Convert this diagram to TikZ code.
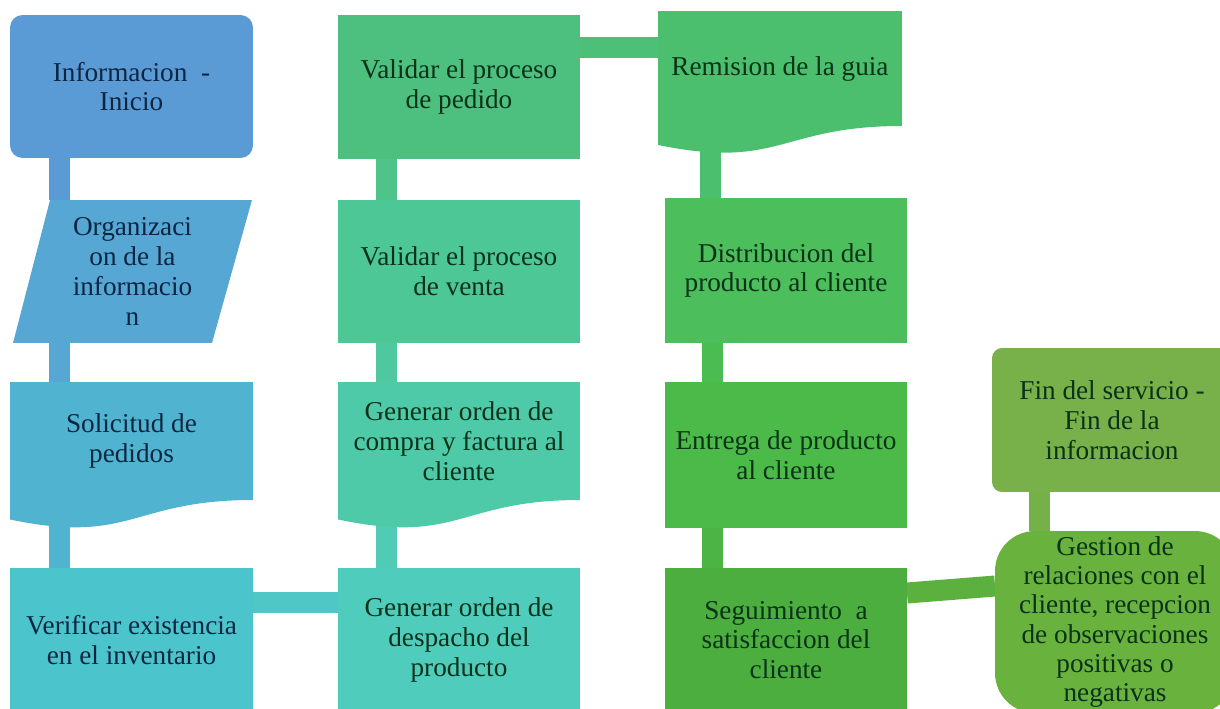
\documentclass[tikz,border=0pt]{standalone}
\usepackage{fontspec}
\setmainfont{Liberation Serif}
\usetikzlibrary{backgrounds}
\definecolor{textblue}{HTML}{0C2642}
\definecolor{textgreen}{HTML}{093218}
\definecolor{cInicio}{HTML}{5B9BD5}
\definecolor{cOrg}{HTML}{56A7D4}
\definecolor{cSol}{HTML}{50B4D0}
\definecolor{cVer}{HTML}{4CC4CC}
\definecolor{cPedido}{HTML}{4DC07F}
\definecolor{cVenta}{HTML}{4EC796}
\definecolor{cCompra}{HTML}{4FCAA9}
\definecolor{cDespacho}{HTML}{50CCBC}
\definecolor{cRemision}{HTML}{4BBF6D}
\definecolor{cDist}{HTML}{4CBE5C}
\definecolor{cEntrega}{HTML}{4BBA48}
\definecolor{cSeg}{HTML}{4BAE3F}
\definecolor{cFin}{HTML}{78B04A}
\definecolor{cGestion}{HTML}{6AB23E}
\begin{document}
\begin{tikzpicture}[x=0.02cm,y=-0.02cm,
	box/.style={rectangle,inner sep=0,outer sep=0,align=center,font=\fontsize{15.5}{17}\selectfont,text=textgreen},
	link/.style={line width=0.42cm}]
	\useasboundingbox (0,0) rectangle (1220,708);
	\clip (0,0) rectangle (1220,708);
	\node[box,fill=cInicio,rounded corners=0.25cm,text=textblue,minimum width=4.86cm,minimum height=2.86cm] (inicio) at (131.5,86.5) {Informacion\enspace-\\Inicio};
	\node[box,text=textblue,minimum width=4.78cm,minimum height=2.86cm] (org) at (132.5,271.5) {Organizaci\\on de la\\informacio\\n};
	\node[box,text=textblue,minimum width=4.86cm,minimum height=2.36cm] (sol) at (131.5,441) {Solicitud de\\pedidos};
	\node[box,fill=cVer,text=textblue,minimum width=4.86cm,minimum height=2.88cm] (ver) at (131.5,640) {Verificar existencia\\en el inventario};
	\node[box,fill=cPedido,minimum width=4.84cm,minimum height=2.88cm] (pedido) at (459,87) {Validar el proceso\\de pedido};
	\node[box,fill=cVenta,minimum width=4.84cm,minimum height=2.86cm] (venta) at (459,271.5) {Validar el proceso\\de venta};
	\node[box,minimum width=4.84cm,minimum height=2.36cm] (compra) at (459,441) {Generar orden de\\compra y factura al\\cliente};
	\node[box,fill=cDespacho,minimum width=4.84cm,minimum height=2.88cm] (despacho) at (459,640) {Generar orden de\\despacho del\\producto};
	\node[box,minimum width=4.88cm,minimum height=2.30cm] (remision) at (780,68.5) {Remision de la guia};
	\node[box,fill=cDist,minimum width=4.84cm,minimum height=2.9cm] (dist) at (786,270.5) {Distribucion del\\producto al cliente};
	\node[box,fill=cEntrega,minimum width=4.84cm,minimum height=2.92cm] (entrega) at (786,455) {Entrega de producto\\al cliente};
	\node[box,fill=cSeg,minimum width=4.84cm,minimum height=2.88cm] (seg) at (786,640) {Seguimiento\enspace a\\satisfaccion del\\cliente};
	\node[box,fill=cFin,rounded corners=0.2cm,minimum width=4.8cm,minimum height=2.88cm] (fin) at (1112,420) {Fin del servicio -\\Fin de la\\informacion};
	\node[box,fill=cGestion,rounded corners=0.8cm,font=\fontsize{15.5}{16.6}\selectfont,minimum width=4.8cm,minimum height=3.64cm] (gestion) at (1115,622) {Gestion de\\relaciones con el\\cliente, recepcion\\de observaciones\\positivas o\\negativas};
	\begin{scope}[on background layer]
		\draw[link,cInicio] ([xshift=0.99cm]inicio.south west) -- ([xshift=0.99cm]inicio.south west |- org.north);
		\draw[link,cOrg] ([xshift=0.99cm]inicio.south west |- org.south) -- ([xshift=0.99cm]inicio.south west |- sol.north);
		\draw[link,cSol] ([xshift=0.99cm]sol.south west) -- ([xshift=0.99cm]sol.south west |- ver.north);
		\draw[link,cVer!60!cDespacho] ([yshift=-0.69cm]ver.north east) -- ([yshift=-0.69cm]ver.north east -| despacho.west);
		\draw[link,cDespacho!60!cCompra] ([xshift=0.96cm]compra.south west) -- ([xshift=0.96cm]compra.south west |- despacho.north);
		\draw[link,cCompra!50!cVenta] ([xshift=0.96cm]venta.south west) -- ([xshift=0.96cm]venta.south west |- compra.north);
		\draw[link,cVenta!50!cPedido] ([xshift=0.96cm]pedido.south west) -- ([xshift=0.96cm]pedido.south west |- venta.north);
		\draw[link,cPedido!50!cRemision] ([yshift=-0.64cm]pedido.north east) -- ([yshift=-0.64cm]pedido.north east -| remision.west);
		\draw[link,cRemision] ([xshift=0.91cm]dist.north west) -- ([xshift=0.91cm]dist.north west |- remision.south);
		\draw[link,cDist!50!cEntrega] ([xshift=0.94cm]dist.south west) -- ([xshift=0.94cm]dist.south west |- entrega.north);
		\draw[link,cEntrega!50!cSeg] ([xshift=0.94cm]entrega.south west) -- ([xshift=0.94cm]entrega.south west |- seg.north);
		\draw[link,cSeg!50!cGestion] ([yshift=-0.5cm]seg.north east) -- ([yshift=-1.1cm]gestion.north west);
		\draw[link,cFin!80!cGestion] ([xshift=0.94cm]fin.south west) -- ([xshift=0.94cm]fin.south west |- gestion.north);
		\fill[cOrg] ([xshift=0.74cm]org.north west) -- (org.north east) -- ([xshift=-0.8cm]org.south east) -- (org.south west) -- cycle;
		\fill[cSol] (sol.north west) -- (sol.north east) -- (sol.south east) .. controls (sol.south) and ([yshift=-0.9cm]sol.south) .. ([yshift=-0.39cm]sol.south west) -- cycle;
		\fill[cCompra] (compra.north west) -- (compra.north east) -- (compra.south east) .. controls (compra.south) and ([yshift=-0.9cm]compra.south) .. ([yshift=-0.39cm]compra.south west) -- cycle;
		\fill[cRemision] (remision.north west) -- (remision.north east) -- (remision.south east) .. controls (remision.south) and ([yshift=-0.88cm]remision.south) .. ([yshift=-0.38cm]remision.south west) -- cycle;
	\end{scope}
\end{tikzpicture}
\end{document}
